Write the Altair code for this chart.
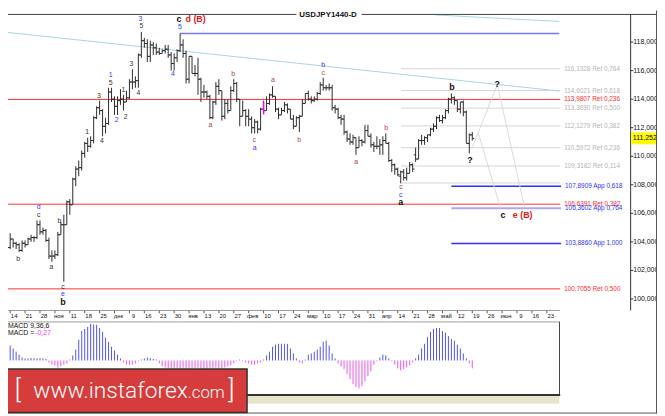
import altair as alt
import pandas as pd

# ---------------- values ----------------
# bar index 0 = Friday 14 Oct 2016, one index per trading day; first bar shown = index -3
first_bar = -3
opens = [103.6, 103.7, 104.2, 103.6, 104.2, 103.9, 103.8, 103.4, 103.9, 103.8, 104.2, 104.3, 104.3,
         105.2, 104.7, 104.8, 104.1, 103.0, 103.0, 103.1, 104.5, 105.2, 105.2,
         106.8, 106.6, 108.4, 109.1, 109.2, 110.2, 110.9, 110.7, 111.1, 112.7,
         113.4, 113.2, 112.1, 112.3, 114.5, 114.0, 113.5, 113.9, 114.0, 113.8,
         114.1, 115.2, 115.2, 115.3, 117.1, 118.1, 117.9, 117.0, 117.8, 117.6,
         117.3, 117.2, 117.4, 117.5, 117.1, 116.5, 116.9, 117.4, 117.8, 117.2,
         115.4, 117.0, 115.8, 115.8, 115.4, 114.5, 114.5, 114.2, 112.7, 113.8,
         114.9, 114.6, 112.8, 113.7, 113.2, 114.6, 115.1, 114.0, 112.8, 113.2,
         112.8, 112.6, 112.0, 112.4, 111.9, 113.3, 113.2, 113.7, 114.3, 114.2,
         113.3, 112.9, 113.2, 113.6, 113.3, 112.6, 112.1, 112.7, 112.8, 113.7,
         114.4, 114.0, 113.9, 114.0, 114.4, 115.0, 114.8, 114.8, 114.8, 113.4,
         113.3, 112.7, 112.6, 111.7, 111.2, 111.0, 111.3, 110.6, 111.1, 111.0,
         111.8, 111.4, 110.8, 110.7, 110.7, 110.8, 111.1, 110.9, 109.7, 109.4,
         109.1, 108.6, 108.9, 108.5, 108.8, 109.4, 110.1, 109.8, 111.1, 111.1,
         111.3, 111.5, 111.9, 112.1, 112.7, 112.5, 112.7, 113.2, 114.0, 114.1,
         113.9, 113.3, 113.8, 113.1, 110.9, 111.5]
highs = [104.0, 104.3, 104.2, 104.6, 104.2, 104.0, 103.9, 104.1, 104.1, 104.3, 104.5, 104.4, 105.5,
         105.5, 105.0, 104.9, 104.3, 103.4, 103.4, 104.7, 105.4, 105.9, 106.9,
         107.0, 108.5, 109.3, 109.7, 110.4, 111.0, 111.3, 111.4, 112.8, 113.5,
         113.9, 113.3, 112.7, 114.8, 114.8, 114.2, 114.2, 114.7, 114.3, 114.6,
         115.4, 116.1, 115.6, 117.2, 118.7, 118.3, 118.2, 118.1, 118.0, 117.9,
         117.6, 117.5, 117.8, 117.8, 117.3, 117.2, 117.5, 118.6, 118.2, 117.4,
         117.0, 117.0, 116.4, 116.9, 115.5, 115.0, 114.6, 114.3, 113.9, 115.2,
         115.4, 114.6, 114.0, 114.0, 114.9, 115.4, 115.2, 114.0, 113.9, 113.3,
         113.3, 112.8, 112.6, 112.5, 113.4, 113.9, 114.2, 114.4, 114.9, 114.2,
         113.4, 113.4, 113.8, 113.7, 113.3, 112.9, 112.8, 112.9, 114.0, 114.4,
         114.6, 114.2, 114.2, 114.5, 115.2, 115.5, 115.0, 115.1, 115.0, 113.6,
         113.4, 112.9, 112.9, 111.8, 111.6, 111.5, 111.3, 111.4, 111.2, 112.2,
         112.2, 111.6, 111.0, 111.4, 111.2, 111.4, 111.6, 111.0, 109.8, 109.5,
         109.2, 109.0, 109.1, 109.2, 109.6, 109.5, 110.6, 111.2, 111.5, 111.4,
         111.5, 112.0, 112.3, 112.8, 112.9, 112.9, 113.3, 114.1, 114.4, 114.2,
         113.9, 113.8, 113.9, 113.2, 111.6, 111.7]
lows = [103.3, 103.5, 103.2, 103.5, 103.6, 103.5, 103.3, 103.3, 103.6, 103.8, 104.0, 104.0, 104.2,
        104.5, 104.5, 104.0, 102.8, 102.6, 102.8, 103.0, 104.5, 101.2, 105.2,
        105.9, 106.6, 107.9, 108.6, 109.0, 109.9, 110.3, 110.6, 110.9, 112.6,
        112.9, 111.4, 111.6, 112.2, 113.8, 112.9, 112.9, 113.6, 113.2, 113.8,
        114.0, 114.7, 114.8, 114.8, 116.9, 117.6, 116.6, 116.6, 117.1, 117.1,
        117.1, 117.2, 117.2, 116.9, 116.0, 116.0, 116.6, 117.3, 116.9, 115.1,
        115.1, 115.8, 115.6, 114.3, 113.8, 114.1, 114.0, 112.6, 112.6, 113.6,
        114.3, 112.5, 112.6, 113.0, 113.2, 114.5, 113.8, 112.1, 112.8, 112.1,
        112.1, 111.6, 111.6, 111.6, 111.8, 113.0, 113.2, 113.6, 114.1, 113.1,
        112.6, 112.9, 113.1, 113.0, 112.6, 111.9, 112.1, 111.7, 112.8, 113.7,
        113.9, 113.7, 113.8, 113.9, 114.3, 114.6, 114.6, 114.6, 113.2, 113.0,
        112.6, 112.2, 111.5, 111.0, 110.8, 110.8, 110.1, 110.6, 110.7, 110.9,
        111.4, 110.6, 110.3, 110.5, 110.1, 110.1, 110.9, 109.6, 108.9, 108.7,
        108.6, 108.1, 108.3, 108.3, 108.8, 108.9, 109.6, 109.8, 110.8, 110.8,
        111.0, 111.4, 111.7, 111.9, 112.4, 112.3, 112.6, 113.0, 113.7, 113.6,
        113.1, 113.0, 112.8, 110.9, 110.2, 111.1]
closes = [103.7, 104.2, 103.6, 104.2, 103.9, 103.8, 103.4, 103.9, 103.8, 104.2, 104.3, 104.3, 105.2,
          104.7, 104.8, 104.1, 103.0, 103.0, 103.1, 104.5, 105.2, 105.2, 106.8,
          106.6, 108.4, 109.1, 109.2, 110.2, 110.9, 110.7, 111.1, 112.7, 113.4,
          113.2, 112.1, 112.3, 114.5, 114.0, 113.5, 113.9, 114.0, 113.8, 114.1,
          115.2, 115.2, 115.3, 117.1, 118.1, 117.9, 117.0, 117.8, 117.6, 117.3,
          117.2, 117.4, 117.5, 117.1, 116.5, 116.9, 117.4, 117.8, 117.2, 115.4,
          117.0, 115.8, 115.8, 115.4, 114.5, 114.5, 114.2, 112.7, 113.8, 114.9,
          114.6, 112.8, 113.7, 113.2, 114.6, 115.1, 114.0, 112.8, 113.2, 112.8,
          112.6, 112.0, 112.4, 111.9, 113.3, 113.2, 113.7, 114.3, 114.2, 113.3,
          112.9, 113.2, 113.6, 113.3, 112.6, 112.1, 112.7, 112.8, 113.7, 114.4,
          114.0, 113.9, 114.0, 114.4, 115.0, 114.8, 114.8, 114.8, 113.4, 113.3,
          112.7, 112.6, 111.7, 111.2, 111.0, 111.3, 110.6, 111.1, 111.0, 111.8,
          111.4, 110.8, 110.7, 110.7, 110.8, 111.1, 110.9, 109.7, 109.4, 109.1,
          108.7, 108.9, 108.5, 108.8, 109.4, 109.1, 109.8, 111.1, 111.1, 111.3,
          111.5, 111.9, 112.1, 112.7, 112.5, 112.7, 113.2, 114.0, 114.1, 113.9,
          113.3, 113.8, 113.1, 110.9, 111.5, 111.252]
macd_hist = [0.54, 0.57, 0.57, 0.51, 0.41, 0.30, 0.20, 0.10, 0.07, 0.07, 0.08, 0.08, 0.07,
             0.08, 0.07, 0.05, -0.07, -0.14, -0.17, -0.24, -0.20, -0.14, -0.10,
             0.03, 0.17, 0.37, 0.71, 1.01, 1.08, 1.15, 1.25, 1.23, 1.22,
             1.11, 0.98, 0.78, 0.64, 0.47, 0.34, 0.20, 0.07, -0.07, -0.14,
             -0.15, -0.14, -0.10, -0.03, 0.03, 0.07, 0.10, 0.08, 0.05, 0.03,
             -0.10, -0.20, -0.24, -0.27, -0.27, -0.29, -0.27, -0.27, -0.25, -0.27,
             -0.29, -0.27, -0.27, -0.25, -0.27, -0.27, -0.29, -0.27, -0.27, -0.25,
             -0.27, -0.27, -0.24, -0.20, -0.17, -0.10, -0.03, 0.03, -0.03, -0.07,
             -0.10, -0.14, -0.14, -0.10, -0.07, 0.03, 0.17, 0.30, 0.47, 0.54,
             0.57, 0.57, 0.57, 0.57, 0.41, 0.24, 0.07, -0.07, -0.10, 0.03,
             0.20, 0.24, 0.30, 0.37, 0.47, 0.64, 0.68, 0.51, 0.24, 0.07,
             -0.10, -0.20, -0.30, -0.47, -0.64, -0.81, -0.91, -0.95, -0.88, -0.71,
             -0.54, -0.37, -0.14, -0.03, 0.10, 0.20, 0.17, 0.07, -0.03, -0.14,
             -0.27, -0.34, -0.30, -0.24, -0.17, -0.07, 0.07, 0.20, 0.41, 0.57,
             0.81, 0.98, 1.08, 1.11, 1.11, 1.01, 0.95, 0.84, 0.74, 0.68,
             0.54, 0.41, 0.24, 0.07, -0.10, -0.27]

# time-axis labels, one every 5 bars starting at bar 0 (Fridays)
friday_labels = ["14", "21", "28", "ноя", "11", "18", "25", "дек", "9", "16", "23", "30",
                 "янв", "13", "20", "27", "фев", "10", "17", "24", "мар", "10", "17", "24",
                 "31", "апр", "14", "21", "28", "май", "12", "19", "26", "июн", "9", "16", "23"]
price_ticks = [100, 102, 104, 106, 108, 110, 112, 114, 116, 118]
last_price = 111.252
chart_title = "USDJPY1440-D"
macd_name = "MACD 9,36,6"

# horizontal levels
level_price = [116.1328, 114.6021, 113.3690, 112.1279, 110.5972, 109.3182, 108.1264,
               113.9807, 106.6391, 100.7055,
               107.8909, 106.3602, 103.8860,
               118.60]
level_kind = ["fibo"] * 7 + ["ret"] * 3 + ["app", "app2", "app"] + ["top"]
level_name = ["Ret"] * 6 + [""] + ["Ret"] * 3 + ["App"] * 3 + [""]
level_ratio = [0.764, 0.618, 0.500, 0.382, 0.236, 0.114, None,
               0.236, 0.382, 0.500, 0.618, 0.764, 1.000, None]
level_from = [131.1] * 7 + [-4.0] * 3 + [148.0] * 3 + [56.9]
level_to = [184.5] * 7 + [184.5] * 3 + [184.8] * 3 + [184.2]

# trend lines and projected paths (bar index, price)
seg_kind = ["trend", "trend", "proj", "proj", "proj"]
seg_i0 = [-3.4, 142.7, 154.8, 163.4, 157.0]
seg_p0 = [118.73, 119.90, 110.50, 115.02, 111.65]
seg_i1 = [184.2, 184.2, 163.4, 172.5, 164.5]
seg_p1 = [114.57, 119.45, 115.02, 106.46, 106.35]

# short vertical marker
marker_i = [85.0]
marker_top = [113.83]
marker_bottom = [112.93]

# wave labels (bar index, price, text, group)
wave_i = [43.7, 44.0, 56.6, 62.2, 56.9, 54.6, 25.8, 30.8, 29.8, 33.7, 33.7, 35.7, 38.0, 38.7,
          40.7, 43.0, 67.2, 74.8, 81.9, 82.0, 88.1, 96.9, 105.0, 105.0, 116.1, 126.1, 131.1,
          131.0, 131.0, 148.2, 154.2, 163.4, 165.3, 171.9, 9.6, 9.6, 2.7, 13.8, 16.5, 17.7,
          17.7, 17.7]
wave_p = [119.60, 119.11, 119.60, 119.60, 119.04, 115.78, 111.68, 111.06, 114.25, 115.71,
          115.15, 112.51, 114.67, 112.72, 116.47, 114.46, 112.22, 115.73, 111.15, 110.59,
          115.34, 111.17, 116.38, 115.85, 109.62, 111.98, 107.86, 107.28, 106.77, 114.83,
          109.74, 115.03, 105.85, 105.85, 106.46, 105.90, 102.77, 102.22, 105.45, 100.85,
          100.31, 99.76]
wave_t = ["3", "5", "c", "d (B)", "5", "4", "1", "4", "3", "1", "5", "2", "1", "2",
          "3", "4", "a", "b", "c", "a", "a", "b", "b", "c", "a", "b", "c",
          "c", "a", "b", "?", "?", "c", "e (B)", "d", "c", "b", "a", "b", "c",
          "e", "b"]
wave_g = ["blue", "dark", "black", "redbold", "blue", "blue", "dark", "dark", "dark", "blue",
          "dark", "blue", "dark", "dark", "dark", "dark", "red", "red", "red", "blue",
          "red", "red", "blue", "red", "red", "red", "red", "blue", "black", "black",
          "black", "black", "black", "redbold", "blue", "dark", "dark", "dark", "dark", "dark",
          "blue", "black"]

n = len(opens)
assert len(highs) == n and len(lows) == n and len(closes) == n and len(macd_hist) == n
assert len(wave_i) == len(wave_p) == len(wave_t) == len(wave_g)

# ---------------- styles ----------------
W, H = 657, 408
FONT = "Liberation Sans, Arial, sans-serif"
BAR = "#2b2b2b"
LINE_STYLE = {"fibo": ("#d4d4d4", 1.0), "ret": ("#ff3030", 1.0), "app": ("#2f2fff", 1.5),
              "app2": ("#a9a9f0", 2.0), "top": ("#7a7aee", 1.5)}
LABEL_COLOR = {"fibo": "#b5b5b5", "ret": "#ff2b2b", "app": "#2f2fff", "app2": "#2f2fff", "top": "#8080e8"}
SEG_COLOR = {"trend": "#a8d3e2", "proj": "#d9d9d9"}
WAVE_STYLE = {"dark": ("#3d3020", 7, "normal"), "blue": ("#3535ff", 7, "normal"),
              "red": ("#b23c3c", 7, "normal"), "black": ("#111111", 9, "bold"),
              "redbold": ("#e01b1b", 9, "bold")}
POS_COL, NEG_COL = "#5252ee", "#ee52ee"

# scales (bar index -> px, price -> px, macd -> px)
XS = alt.Scale(domain=[0, 100], range=[2.2, 304.0], nice=False, zero=False)
PS = alt.Scale(domain=[100, 118], range=[292.0, 32.0], nice=False, zero=False)
MS = alt.Scale(domain=[-1, 1], range=[383.9, 324.7], nice=False, zero=False)


def xq(f):
    return alt.X(f + ":Q", scale=XS, axis=None)


def pq(f):
    return alt.Y(f + ":Q", scale=PS, axis=None)


def mq(f):
    return alt.Y(f + ":Q", scale=MS, axis=None)


ONE = pd.DataFrame({"k": [0]})


def hrule(x0, x1, y, color, w=1.0):
    return alt.Chart(ONE).mark_rule(color=color, strokeWidth=w).encode(
        x=alt.value(x0), x2=alt.value(x1), y=alt.value(y))


def vrule(x, y0, y1, color, w=1.0):
    return alt.Chart(ONE).mark_rule(color=color, strokeWidth=w).encode(
        x=alt.value(x), y=alt.value(y0), y2=alt.value(y1))


def box(x0, x1, y0, y1, fill, stroke=None, sw=0.0):
    kw = {"fill": fill}
    if stroke:
        kw.update(stroke=stroke, strokeWidth=sw)
    return alt.Chart(ONE).mark_rect(**kw).encode(
        x=alt.value(x0), x2=alt.value(x1), y=alt.value(y0), y2=alt.value(y1))


def note(x, y, txt, **kw):
    return alt.Chart(ONE).mark_text(text=txt, **kw).encode(x=alt.value(x), y=alt.value(y))


def comma(v, d):
    return f"{v:.{d}f}".replace(".", ",")


layers = []

# ---- panels / frame background ----
layers.append(box(-8, 558, 390, 398, "#e8e5cd"))
layers.append(hrule(-8, 558.7, 303.7, "#9a9a9a"))
layers.append(hrule(-8, 558, 315.3, "#9a9a9a"))
layers.append(vrule(558.3, 315, 389, "#444444"))
layers.append(hrule(-8, 559, 389.3, "#333333", 2))
layers.append(vrule(630.3, 4, 303.7, "#333333"))

# ---- horizontal levels ----
lev = pd.DataFrame({
    "p": level_price, "i0": level_from, "i1": level_to,
    "col": [LINE_STYLE[k][0] for k in level_kind],
    "w": [LINE_STYLE[k][1] for k in level_kind],
})
layers.append(alt.Chart(lev).mark_rule().encode(
    x=xq("i0"), x2="i1", y=pq("p"),
    color=alt.Color("col:N", scale=None),
    strokeWidth=alt.StrokeWidth("w:Q", scale=None)))

lab_rows = []
for p, k, nm, r, t in zip(level_price, level_kind, level_name, level_ratio, level_to):
    if r is None:
        continue
    lab_rows.append({"p": p, "i1": t, "txt": f"{comma(p, 4)} {nm} {comma(r, 3)}",
                     "col": LABEL_COLOR[k]})
layers.append(alt.Chart(pd.DataFrame(lab_rows)).mark_text(
    align="left", baseline="middle", dx=4, fontSize=6.5, font=FONT).encode(
    x=xq("i1"), y=pq("p"), text="txt:N", color=alt.Color("col:N", scale=None)))

# ---- trend lines & projections ----
seg = pd.DataFrame({"i0": seg_i0, "p0": seg_p0, "i1": seg_i1, "p1": seg_p1,
                    "col": [SEG_COLOR[k] for k in seg_kind]})
layers.append(alt.Chart(seg).mark_rule(strokeWidth=1).encode(
    x=xq("i0"), x2="i1", y=pq("p0"), y2="p1", color=alt.Color("col:N", scale=None)))

# ---- OHLC bars ----
bars = pd.DataFrame({"i": list(range(first_bar, first_bar + n)),
                     "o": opens, "h": highs, "l": lows, "c": closes})
layers.append(alt.Chart(bars).mark_rule(color=BAR, strokeWidth=1).encode(
    x=xq("i"), y=pq("l"), y2="h"))
layers.append(alt.Chart(bars).mark_rule(color=BAR, strokeWidth=1, xOffset=-2, x2Offset=0).encode(
    x=xq("i"), x2="i", y=pq("o")))
layers.append(alt.Chart(bars).mark_rule(color=BAR, strokeWidth=1, xOffset=0, x2Offset=2).encode(
    x=xq("i"), x2="i", y=pq("c")))

# magenta marker
mk = pd.DataFrame({"i": marker_i, "a": marker_top, "b": marker_bottom})
layers.append(alt.Chart(mk).mark_rule(color="#ff00ff", strokeWidth=1.5).encode(
    x=xq("i"), y=pq("a"), y2="b"))

# ---- wave labels ----
waves = pd.DataFrame({"i": wave_i, "p": wave_p, "t": wave_t, "g": wave_g})
for g, (col, fs, fw) in WAVE_STYLE.items():
    sub = waves[waves["g"] == g]
    layers.append(alt.Chart(sub).mark_text(
        color=col, fontSize=fs, fontWeight=fw, font=FONT, baseline="middle", align="center").encode(
        x=xq("i"), y=pq("p"), text="t:N"))

# ---- price axis ----
ticks = pd.DataFrame({"v": price_ticks, "t": [comma(v, 3) for v in price_ticks]})
layers.append(alt.Chart(ticks).mark_rule(color="#333333").encode(
    x=alt.value(630.3), x2=alt.value(633), y=pq("v")))
layers.append(alt.Chart(ticks).mark_text(align="left", baseline="middle", fontSize=7, font=FONT,
                                         color="#111111").encode(
    x=alt.value(633), y=pq("v"), text="t:N"))
cur = pd.DataFrame({"v": [last_price], "t": [comma(last_price, 3)]})
layers.append(alt.Chart(cur).mark_rect(color="#ffff00", yOffset=-6, y2Offset=6).encode(
    x=alt.value(631), x2=alt.value(657), y=pq("v"), y2="v"))
layers.append(alt.Chart(cur).mark_text(align="left", baseline="middle", fontSize=7, font=FONT,
                                       color="#000000").encode(
    x=alt.value(632.5), y=pq("v"), text="t:N"))

# ---- time axis ----
dates = pd.DataFrame({"i": [5 * k for k in range(len(friday_labels))], "t": friday_labels})
layers.append(alt.Chart(dates).mark_rule(color="#555555").encode(
    x=xq("i"), y=alt.value(304), y2=alt.value(306.5)))
layers.append(alt.Chart(dates).mark_text(align="center", baseline="middle", dx=4, fontSize=6,
                                         font=FONT, color="#111111").encode(
    x=xq("i"), y=alt.value(309.8), text="t:N"))

# ---- MACD histogram ----
mdf = pd.DataFrame({"i": list(range(first_bar, first_bar + n)), "m": macd_hist,
                    "z": [0.0] * n,
                    "col": [POS_COL if v >= 0 else NEG_COL for v in macd_hist]})
layers.append(alt.Chart(mdf).mark_rule(strokeWidth=1).encode(
    x=xq("i"), y=mq("m"), y2="z", color=alt.Color("col:N", scale=None)))
layers.append(note(0, 319.5, macd_name, align="left", baseline="middle", fontSize=7, font=FONT,
                   color="#111111"))
layers.append(note(0, 326.5, "MACD =", align="left", baseline="middle", fontSize=7, font=FONT,
                   color="#111111"))
layers.append(note(27.5, 326.5, comma(macd_hist[-1], 2), align="left", baseline="middle",
                   fontSize=7, font=FONT, color="#ff33ff"))

# ---- title bar & outer frame ----
layers.append(hrule(-8, 292, 4, "#404040"))
layers.append(hrule(358, 657, 4, "#404040"))
layers.append(note(324, 0.5, chart_title, align="center", baseline="top", fontSize=8,
                   fontWeight="bold", font=FONT, color="#111111"))
layers.append(vrule(656.5, 0, 408, "#555555"))
layers.append(hrule(0, 657, 407.5, "#555555"))

# ---- logo ----
layers.append(box(-8, 242, 363, 407, "#d63c3c", "#333333", 1.5))
LOGO_FONT = "Roboto, Open Sans, sans-serif"
layers.append(note(10, 392, "[", align="center", baseline="alphabetic", fontSize=26,
                   fontWeight=300, font=LOGO_FONT, color="#ffffff"))
layers.append(note(182, 392, "www.instaforex", align="right", baseline="alphabetic", fontSize=23,
                   fontWeight=300, font=LOGO_FONT, color="#ffffff"))
layers.append(note(182, 392, ".com", align="left", baseline="alphabetic", fontSize=17,
                   fontWeight=300, font=LOGO_FONT, color="#ffffff"))
layers.append(note(226, 392, "]", align="center", baseline="alphabetic", fontSize=26,
                   fontWeight=300, font=LOGO_FONT, color="#ffffff"))

chart = alt.layer(*layers).resolve_scale(y="independent").properties(
    width=W, height=H, padding=0, autosize="none", background="#ffffff"
).configure_view(stroke=None)

chart.save("out.html", embed_options={"renderer": "svg", "actions": False})
